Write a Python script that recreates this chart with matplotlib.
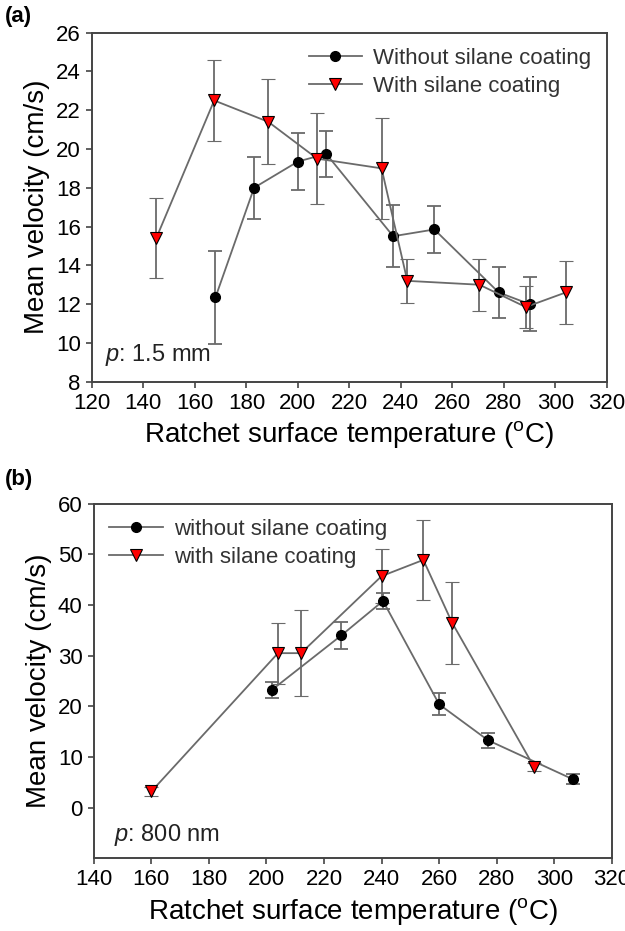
import matplotlib
matplotlib.use('Agg')
import matplotlib.pyplot as plt

plt.rcParams['font.family'] = ['Liberation Sans', 'DejaVu Sans']
plt.rcParams['mathtext.fontset'] = 'custom'
plt.rcParams['mathtext.rm'] = 'Liberation Sans'
plt.rcParams['mathtext.it'] = 'Liberation Sans:italic'

# panel (a) data, pitch 1.5 mm
ta_without = [168, 183, 200, 211, 237, 253, 278, 290]
va_without = [12.35, 18.0, 19.35, 19.75, 15.5, 15.85, 12.6, 12.0]
ea_without = [2.4, 1.6, 1.45, 1.2, 1.6, 1.2, 1.3, 1.4]

ta_with = [145, 167.5, 188.5, 207.5, 232.5, 242.5, 270.5, 288.5, 304]
va_with = [15.4, 22.5, 21.4, 19.5, 19.0, 13.2, 13.0, 11.85, 12.6]
ea_with = [2.05, 2.1, 2.2, 2.35, 2.6, 1.15, 1.35, 1.1, 1.6]

# panel (b) data, pitch 800 nm
tb_without = [202, 226, 240.5, 260, 277, 306.5]
vb_without = [23.3, 34.0, 40.8, 20.4, 13.3, 5.6]
eb_without = [1.6, 2.7, 1.6, 2.2, 1.5, 1.0]

tb_with = [160, 204, 212, 240, 254.5, 264.5, 293]
vb_with = [3.2, 30.5, 30.5, 45.7, 48.9, 36.5, 8.0]
eb_with = [0.8, 6.0, 8.5, 5.4, 7.9, 8.1, 0.8]

line_c = '#6a6a6a'
xlab = r'Ratchet surface temperature ($^\mathregular{o}$C)'
ylab = 'Mean velocity (cm/s)'

fig = plt.figure(figsize=(6.25, 9.31), dpi=100)


def draw(ax, t1, v1, e1, t2, v2, e2, lab1, lab2, loc):
    c1 = ax.errorbar(t1, v1, yerr=e1, fmt='-o', color=line_c, lw=1.3,
                     mfc='black', mec='black', ms=7, ecolor=line_c,
                     elinewidth=1.3, capsize=5, capthick=1.3)
    c2 = ax.errorbar(t2, v2, yerr=e2, fmt='-v', color=line_c, lw=1.3,
                     mfc='red', mec='black', mew=0.8, ms=8, ecolor=line_c,
                     elinewidth=1.3, capsize=5, capthick=1.3)
    for s in ax.spines.values():
        s.set_color('#444444')
        s.set_linewidth(1.4)
    ax.tick_params(direction='out', length=4, width=1.2, color='#444444',
                   labelsize=16, pad=4)
    ax.set_xlabel(xlab, fontsize=20, labelpad=4)
    ax.set_ylabel(ylab, fontsize=20, labelpad=4)
    leg = ax.legend([c1[0], c2[0]], [lab1, lab2], loc=loc, frameon=False,
                    fontsize=16, handlelength=2.4, handletextpad=0.5,
                    borderaxespad=0.3, labelspacing=0.3)
    for txt in leg.get_texts():
        txt.set_color('#333333')


# (a)
ax1 = fig.add_axes([0.147, 0.590, 0.824, 0.375])
draw(ax1, ta_without, va_without, ea_without, ta_with, va_with, ea_with,
     'Without silane coating', 'With silane coating', 'upper right')
ax1.set_xlim(120, 320)
ax1.set_ylim(8, 26)
ax1.set_xticks(range(120, 321, 20))
ax1.set_yticks(range(8, 27, 2))
ax1.text(0.025, 0.06, r'$\mathit{p}$: 1.5 mm', transform=ax1.transAxes,
         fontsize=17, color='#222222')
fig.text(0.008, 0.982, '(a)', fontsize=16, fontweight='bold', va='center')

# (b)
ax2 = fig.add_axes([0.150, 0.078, 0.829, 0.381])
draw(ax2, tb_without, vb_without, eb_without, tb_with, vb_with, eb_with,
     'without silane coating', 'with silane coating', 'upper left')
ax2.set_xlim(140, 320)
ax2.set_ylim(-10, 60)
ax2.set_xticks(range(140, 321, 20))
ax2.set_yticks(range(0, 61, 10))
ax2.text(0.04, 0.05, r'$\mathit{p}$: 800 nm', transform=ax2.transAxes,
         fontsize=17, color='#222222')
fig.text(0.008, 0.485, '(b)', fontsize=16, fontweight='bold', va='center')

fig.savefig('out.png', dpi=100)
